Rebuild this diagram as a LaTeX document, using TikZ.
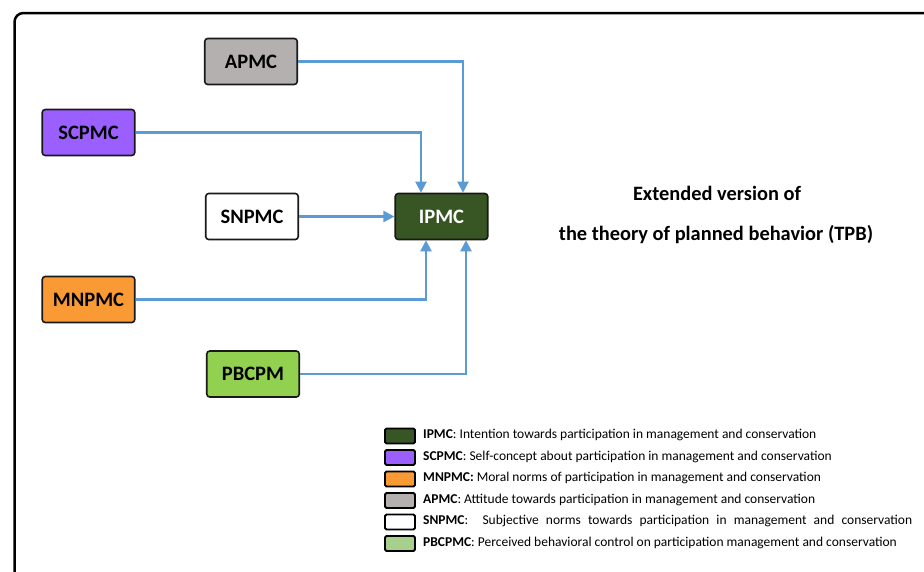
\documentclass[tikz,border=0pt]{standalone}
\usepackage{fontspec}
\setmainfont{Carlito}
\usetikzlibrary{arrows.meta}
\definecolor{ipmcgreen}{HTML}{375623}
\definecolor{scpurple}{HTML}{9B5FFF}
\definecolor{mnorange}{HTML}{F99A35}
\definecolor{apgray}{HTML}{B3B0AF}
\definecolor{pbgreen}{HTML}{92D050}
\definecolor{pblight}{HTML}{A8D08D}
\definecolor{arrblue}{HTML}{5B9BD5}
\begin{document}
\begin{tikzpicture}[x=1pt,y=-1pt,
  box/.style={draw=black!90, line width=1.6pt, rounded corners=3pt,
    minimum width=92.5pt, minimum height=46pt, inner sep=0pt,
    font=\fontsize{20.5}{24}\selectfont\bfseries, text height=13.2pt, text depth=0pt},
  arr/.style={draw=arrblue, line width=2.2pt, -{Triangle[length=11pt,width=11pt]}},
  swatch/.style={draw=black, line width=1.8pt, rounded corners=1.5pt,
    minimum width=30pt, minimum height=15pt, inner sep=0pt},
  legtext/.style={anchor=west, inner sep=0pt, font=\fontsize{13.5}{16}\selectfont},
  title/.style={anchor=base, inner sep=0pt, font=\fontsize{20.4}{24}\selectfont\bfseries}
]
\useasboundingbox (0,0) rectangle (924,571);
\draw[line width=2.5pt, rounded corners=9pt] (14.5,13) rectangle (960,610);

\node[box, fill=apgray] (ap) at (251,61.5) {APMC};
\node[box, fill=scpurple] (sc) at (88.5,132.5) {SCPMC};
\node[box, fill=white] (sn) at (252,216.5) {SNPMC};
\node[box, fill=ipmcgreen, text=white] (ip) at (441.5,216.5) {IPMC};
\node[box, fill=mnorange] (mn) at (88.5,299.5) {MNPMC};
\node[box, fill=pbgreen] (pb) at (253,374) {PBCPM};

\draw[arr] (ap.east) -| ([xshift=21.5pt]ip.north);
\draw[arr] (sc.east) -| ([xshift=-20.5pt]ip.north);
\draw[arr] (sn.east) -- (ip.west);
\draw[arr] (mn.east) -| ([xshift=-15.5pt]ip.south);
\draw[arr] (pb.east) -| ([xshift=24.5pt]ip.south);

\node[title] (t1) at (717,200) {Extended version of};
\node[title] (t2) at (716,240) {the theory of planned behavior (TPB)};

\node[swatch, fill=ipmcgreen] (s1) at (400,436) {};
\node[swatch, fill=scpurple] (s2) at (400,457.5) {};
\node[swatch, fill=mnorange] (s3) at (400,479) {};
\node[swatch, fill=apgray] (s4) at (400,500.5) {};
\node[swatch, fill=white] (s5) at (400,522) {};
\node[swatch, fill=pblight] (s6) at (400,543.5) {};

\node[legtext] (l1) at (423,435) {\textbf{IPMC}: Intention towards participation in management and conservation};
\node[legtext] (l2) at (423,456.5) {\textbf{SCPMC}: Self-concept about participation in management and conservation};
\node[legtext] (l3) at (423,478) {\textbf{MNPMC:} Moral norms of participation in management and conservation};
\node[legtext] (l4) at (423,499.5) {\textbf{APMC}: Attitude towards participation in management and conservation};
\node[legtext] (l5) at (423,521) {\makebox[489pt][s]{\textbf{SNPMC}:\ \ Subjective norms towards participation in management and conservation}};
\node[legtext] (l6) at (423,542.5) {\textbf{PBCPMC}: Perceived behavioral control on participation management and conservation};
\end{tikzpicture}
\end{document}
